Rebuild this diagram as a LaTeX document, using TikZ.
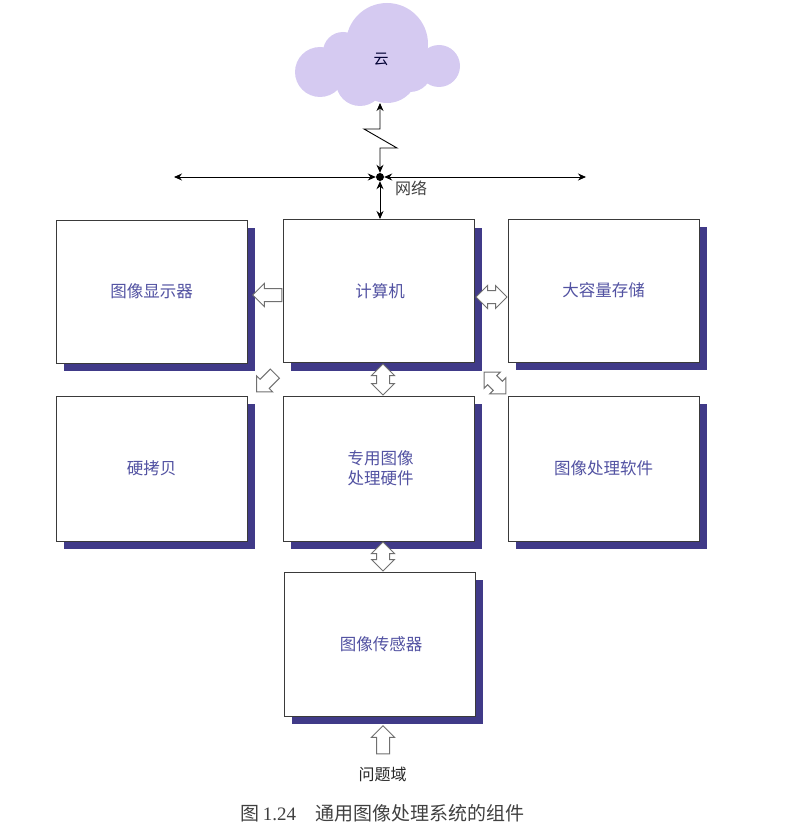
\documentclass[tikz,border=0pt]{standalone}
\usepackage{fontspec}
\setmainfont{Liberation Serif}
\newfontfamily\cjk{Noto Sans CJK SC}
\usetikzlibrary{shapes.arrows,shadows,arrows.meta}
\definecolor{shadowblue}{HTML}{403A88}
\definecolor{labelblue}{HTML}{5252A2}
\definecolor{cloudfill}{HTML}{D5CAF1}
\definecolor{edgegray}{HTML}{3A3A3A}
\definecolor{blockgray}{HTML}{707070}
\tikzset{
  panel/.style={draw=edgegray,line width=1pt,fill=white,inner sep=0pt,minimum width=191pt,minimum height=143pt,
    align=center,text=labelblue,font=\cjk\fontsize{16.5}{20}\selectfont,
    general shadow={fill=shadowblue,shadow xshift=8pt,shadow yshift=-8pt,opacity=1}},
  singleblock/.style={single arrow,draw=blockgray,line width=1pt,fill=white,inner sep=6pt,single arrow head extend=5pt,single arrow head indent=0pt,anchor=center},
  doubleblock/.style={double arrow,draw=blockgray,line width=1pt,fill=white,inner sep=6pt,double arrow head extend=5pt,double arrow head indent=0pt,anchor=center},
  thinarrow/.style={draw=black,line width=0.9pt,{Stealth[length=8pt,width=7pt]}-{Stealth[length=8pt,width=7pt]}},
  puff/.style={fill=cloudfill,draw=none},
  plainlabel/.style={inner sep=0pt,text=black,font=\cjk\fontsize{16}{20}\selectfont},
}
\begin{document}
\begin{tikzpicture}[x=1pt,y=-1pt]
\useasboundingbox (0,0) rectangle (798,829);
% cloud
\fill[puff] (387,44) circle (41);
\fill[puff] (320,72) circle (25);
\fill[puff] (343,52) circle (20);
\fill[puff] (439,66) circle (21);
\fill[puff] (360,82) circle (24);
\fill[puff] (387,72) circle (31);
\fill[puff] (410,70) circle (22);
\node[inner sep=0pt,text=black!80!blue,font=\cjk\fontsize{15}{18}\selectfont] (cloud) at (381,59) {云};
\coordinate (cloudfoot) at (380,103);
% network
\node[circle,fill=black,inner sep=0pt,minimum size=8pt] (hub) at (380,177) {};
\coordinate (netleft) at (174,177);
\coordinate (netright) at (586,177);
\draw[thinarrow] (netleft) -- (hub);
\draw[thinarrow] (netright) -- (hub);
\draw[thinarrow] (cloudfoot) -- (380,129) -- (364,129) -- (397,148) -- (380,148) -- (hub);
\node[plainlabel,text=black!75] (netlabel) at (411,188) {网络};
% panels
\node[panel] (display) at (151.5,291.5) {图像显示器};
\node[panel] (computer) at (378.5,291) {\hspace*{3pt}计算机};
\node[panel] (storage) at (603.5,290.5) {大容量存储};
\node[panel,minimum height=145pt] (hardcopy) at (151.5,468.5) {硬拷贝};
\node[panel,minimum height=145pt] (special) at (378.5,468.5) {\hspace*{4pt}专用图像\\\hspace*{4pt}处理硬件};
\node[panel,minimum height=145pt] (software) at (603.5,468.5) {图像处理软件};
\node[panel,minimum height=144pt] (sensor) at (379.5,644) {\hspace*{3pt}图像传感器};
\draw[thinarrow] (hub) -- (hub |- computer.north);
% block arrows
\node[singleblock,minimum height=29pt,minimum width=22pt,rotate=180] (a1) at (270.5,295) {};
\node[doubleblock,minimum height=31pt,minimum width=22pt] (a2) at (491.5,297) {};
\node[singleblock,minimum height=26pt,minimum width=21pt,rotate=225] (a3) at (268,380.5) {};
\node[doubleblock,minimum height=31pt,minimum width=22pt,rotate=90] (a4) at (383,379.5) {};
\node[doubleblock,minimum height=31pt,minimum width=22pt,rotate=-45] (a5) at (495,383) {};
\node[doubleblock,minimum height=29pt,minimum width=22pt,rotate=90] (a6) at (383,556.5) {};
\node[singleblock,minimum height=28pt,minimum width=22pt,rotate=90] (a7) at (383,743) {};
% labels
\node[plainlabel,text=black!85] (domain) at (382.5,774) {问题域};
\node[inner sep=0pt,text=black!75,font=\fontsize{19}{22}\selectfont] (caption) at (382.5,813) {{\cjk 图}\,1.24\hspace{1em}{\cjk 通用图像处理系统的组件}};
\end{tikzpicture}
\end{document}
